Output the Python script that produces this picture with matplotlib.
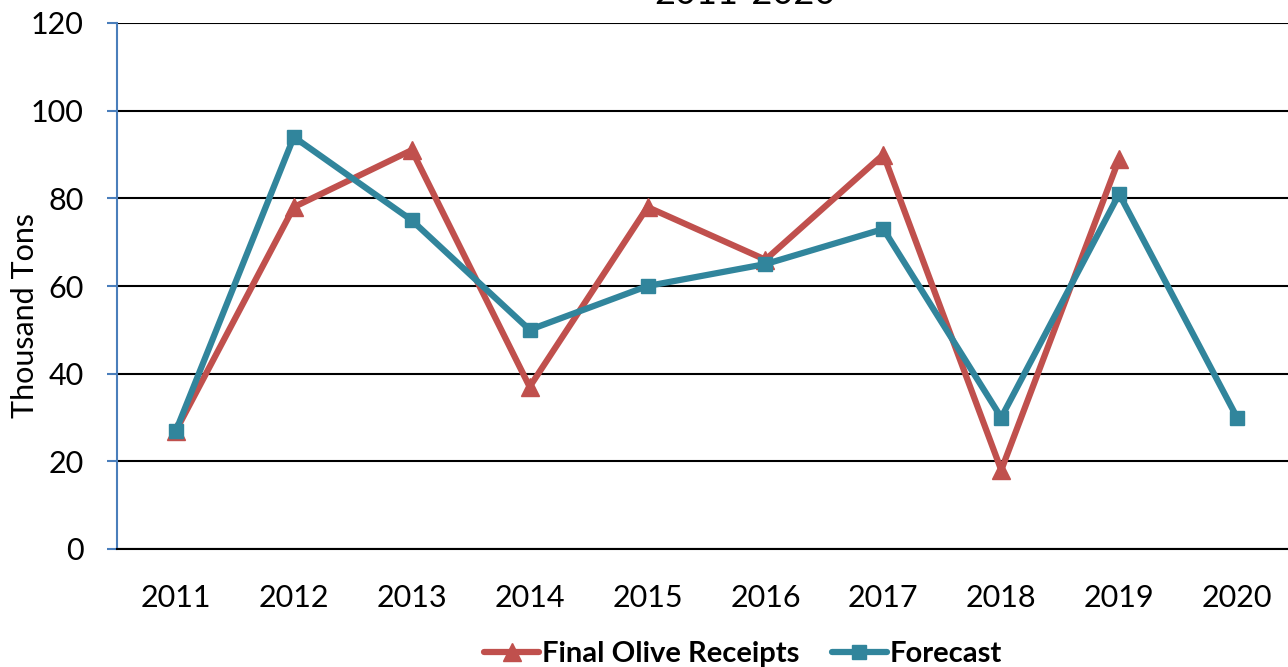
import matplotlib
matplotlib.use("Agg")
import matplotlib.pyplot as plt
from matplotlib.lines import Line2D

years = ["2011", "2012", "2013", "2014", "2015", "2016", "2017", "2018", "2019", "2020"]
final_receipts = [27, 78, 91, 37, 78, 66, 90, 18, 89, None]
forecast = [27, 94, 75, 50, 60, 65, 73, 30, 81, 30]
yticks = [0, 20, 40, 60, 80, 100, 120]

plt.rcParams['font.family'] = ['Lato', 'DejaVu Sans']

W, H = 1288, 667
fig = plt.figure(figsize=(W / 100, H / 100), dpi=100)
ax = fig.add_axes([117 / W, 1 - 549 / H, 1179 / W, 526 / H])

red = "#C0504D"
teal = "#31859C"
x = list(range(len(years)))
fx = [i for i, v in zip(x, final_receipts) if v is not None]
fv = [v for v in final_receipts if v is not None]
ax.plot(fx, fv, color=red, lw=4.5, marker="^", ms=13, zorder=3)
ax.plot(x, forecast, color=teal, lw=4.5, marker="s", ms=10, zorder=4)

ax.set_xlim(-0.5, len(years) - 0.5)
ax.set_ylim(0, 120)
ax.set_yticks(yticks)
ax.set_xticks(x)
ax.set_xticklabels(years)
ax.grid(axis="y", color="black", lw=1.5)
ax.set_axisbelow(True)
for s in ["top", "right"]:
    ax.spines[s].set_visible(False)
ax.spines["left"].set_color("#4A7EBB")
ax.spines["left"].set_linewidth(1.5)
ax.spines["bottom"].set_color("black")
ax.spines["bottom"].set_linewidth(1.5)
ax.tick_params(axis="y", colors="#4A7EBB", length=7, width=1.5, labelcolor="black", labelsize=22, pad=17)
ax.tick_params(axis="x", length=0, labelsize=22, pad=25)
fig.text(25 / W, 1 - 316 / H, "Thousand Tons", rotation=90, ha="center", va="center", fontsize=22)

fig.text(745 / W, 1 - 4 / H, "2011-2020", ha="center", va="baseline", fontsize=26)

handles = [
    Line2D([], [], color=red, lw=4.5, marker="^", ms=13, solid_capstyle="round"),
    Line2D([], [], color=teal, lw=4.5, marker="s", ms=10, solid_capstyle="round"),
]
fig.legend(handles, ["Final Olive Receipts", "Forecast"], loc="center", bbox_to_anchor=(743 / W, 1 - 654 / H),
           ncol=2, frameon=False, prop={"weight": "bold", "size": 21}, handlelength=1.9,
           handletextpad=0.1, columnspacing=1.1)

fig.savefig("out.png", dpi=100)
